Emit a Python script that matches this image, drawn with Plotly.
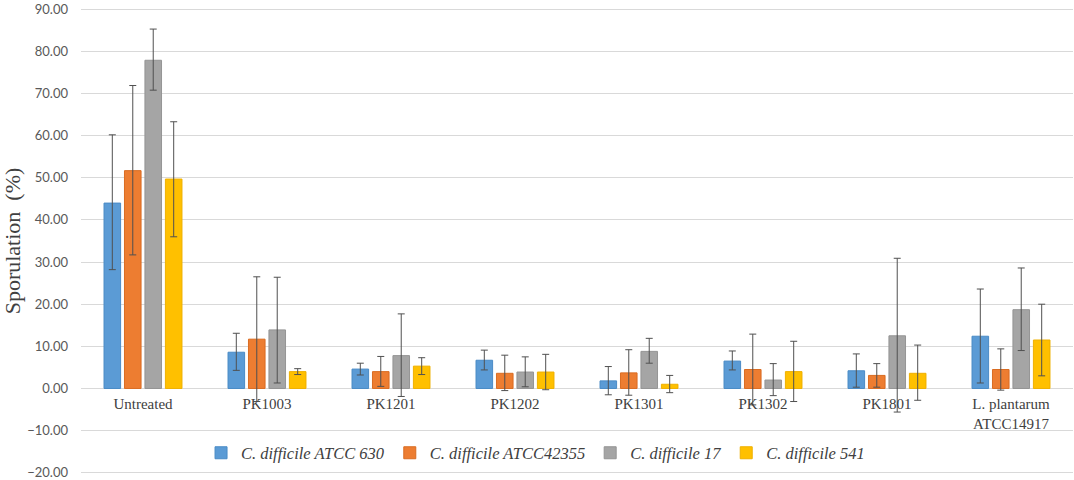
import plotly.graph_objects as go

categories = ["Untreated", "PK1003", "PK1201", "PK1202", "PK1301", "PK1302", "PK1801",
              "L. plantarum<br>ATCC14917"]

series_names = ["C. difficile ATCC 630", "C. difficile ATCC42355", "C. difficile 17", "C. difficile 541"]

atcc630 = [44.0, 8.6, 4.6, 6.7, 1.8, 6.5, 4.2, 12.4]
atcc630_plus = [16.2, 4.5, 1.4, 2.4, 3.4, 2.4, 4.0, 11.2]
atcc630_minus = [15.8, 4.3, 1.4, 2.3, 3.3, 2.1, 3.9, 11.1]

atcc42355 = [51.7, 11.7, 4.0, 3.6, 3.7, 4.5, 3.1, 4.5]
atcc42355_plus = [20.2, 14.8, 3.6, 4.3, 5.5, 8.4, 2.8, 4.9]
atcc42355_minus = [20.0, 14.8, 3.5, 4.1, 5.3, 8.4, 2.8, 4.9]

cd17 = [77.9, 13.9, 7.8, 3.9, 8.8, 2.0, 12.5, 18.7]
cd17_plus = [7.4, 12.5, 9.9, 3.6, 3.1, 3.9, 18.4, 9.9]
cd17_minus = [7.1, 12.6, 9.7, 3.5, 2.8, 3.7, 18.1, 9.7]

cd541 = [49.7, 4.0, 5.3, 3.9, 1.0, 4.0, 3.6, 11.5]
cd541_plus = [13.6, 0.7, 2.0, 4.2, 2.1, 7.2, 6.7, 8.5]
cd541_minus = [13.7, 0.7, 2.0, 4.2, 2.0, 7.1, 6.4, 8.5]

colors = ["#5B9BD5", "#ED7D31", "#A5A5A5", "#FFC000"]
edges = ["#4A8BC6", "#D96C22", "#959595", "#EFB000"]

values = [atcc630, atcc42355, cd17, cd541]
plus = [atcc630_plus, atcc42355_plus, cd17_plus, cd541_plus]
minus = [atcc630_minus, atcc42355_minus, cd17_minus, cd541_minus]

serif = "Liberation Serif, Times New Roman, serif"

fig = go.Figure()
for name, v, p, m, c, e in zip(series_names, values, plus, minus, colors, edges):
    fig.add_trace(go.Bar(
        x=categories, y=v, name=name,
        marker=dict(color=c, line=dict(color=e, width=1)),
        error_y=dict(type="data", array=p, arrayminus=m, color="#505050",
                     thickness=1, width=3.5),
    ))

ymin, ymax = -20.3, 90.3
fig.update_layout(
    width=1074, height=480,
    paper_bgcolor="white", plot_bgcolor="white",
    margin=dict(l=81, r=1, t=8, b=6, autoexpand=False),
    barmode="group", bargap=0.34, bargroupgap=0.19,
    showlegend=True,
    legend=dict(orientation="h", x=0.121, xanchor="left", y=0.045, yanchor="middle",
                font=dict(family=serif, size=16.5, color="#404040", style="italic"),
                bgcolor="rgba(0,0,0,0)", itemwidth=30, tracegroupgap=0),
    xaxis=dict(anchor="free", position=(0 - ymin) / (ymax - ymin), showgrid=False,
               showline=False, automargin=False,
               ticks="", tickfont=dict(family=serif, size=15, color="#404040"),
               ticklabelstandoff=5),
    yaxis=dict(range=[ymin, ymax], tickvals=[-20, -10, 0, 10, 20, 30, 40, 50, 60, 70, 80, 90],
               tickformat=".2f", showgrid=True, automargin=False, ticklabeloverflow="allow",
               ticklabelstandoff=12,
               gridcolor="#D9D9D9", gridwidth=1, zeroline=False, showline=False,
               tickfont=dict(family="Lato", size=13, color="#595959"),
               title=dict(text="Sporulation  (%)", standoff=0,
                          font=dict(family=serif, size=22, color="#404040"))),
)

fig.write_html("out.html", post_script="document.body.style.margin='0';",
               config={"displayModeBar": False})
